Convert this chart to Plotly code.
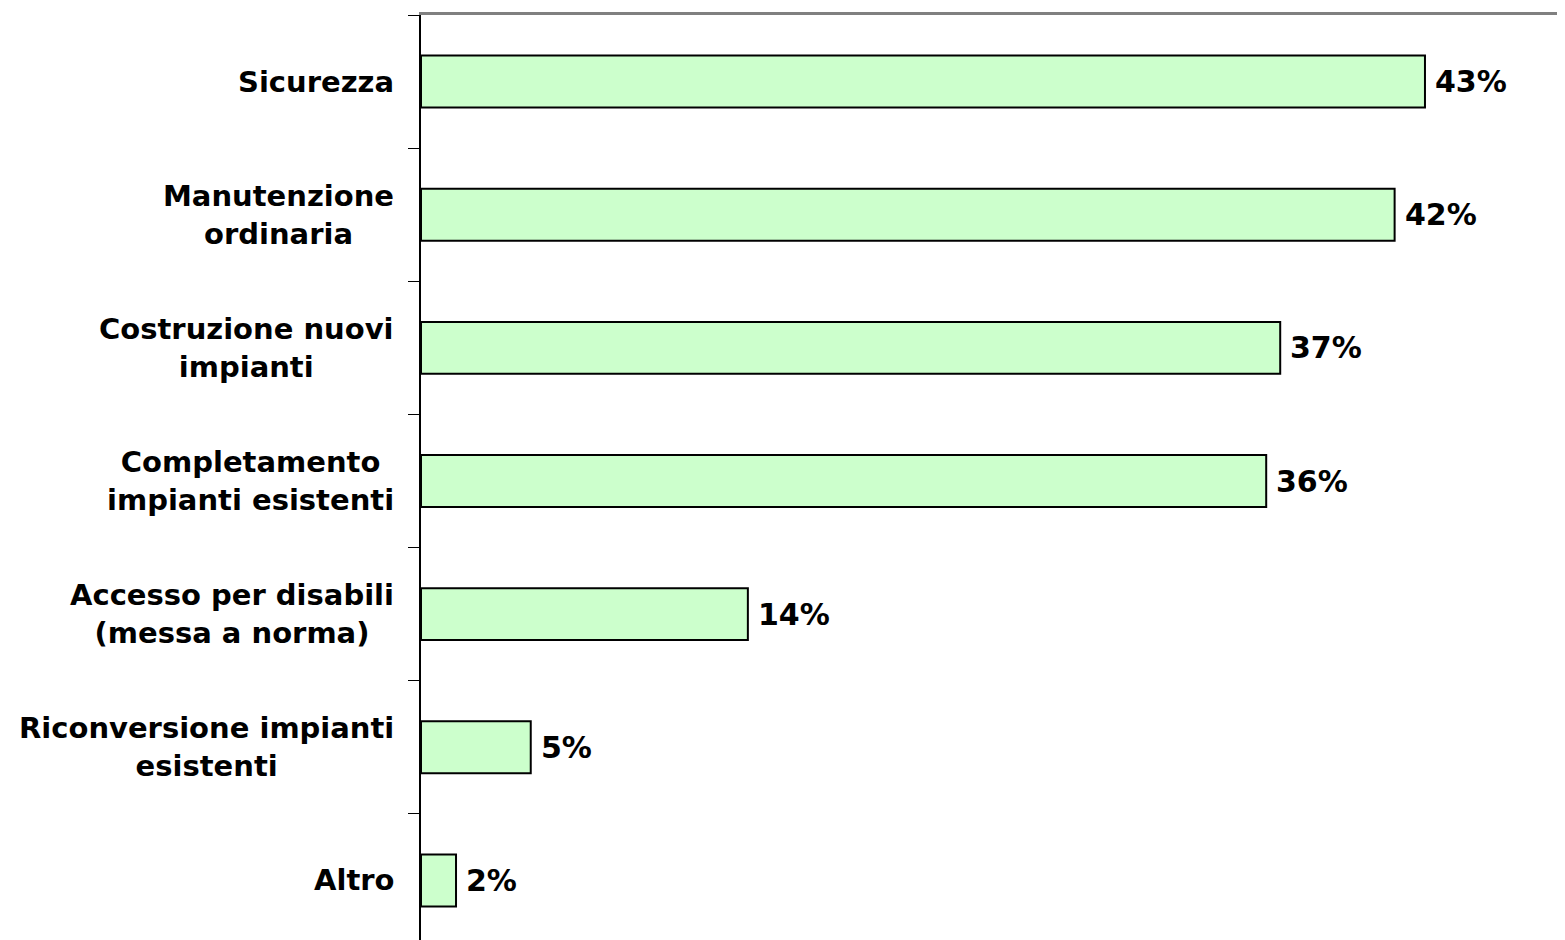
import plotly.graph_objects as go

categories = [
    "Sicurezza",
    "Manutenzione<br>ordinaria",
    "Costruzione nuovi<br>impianti",
    "Completamento<br>impianti esistenti",
    "Accesso per disabili<br>(messa a norma)",
    "Riconversione impianti<br>esistenti",
    "Altro",
]
values = [43.0, 41.7, 36.8, 36.2, 14.0, 4.7, 1.5]
value_labels = ["43%", "42%", "37%", "36%", "14%", "5%", "2%"]

FONT = "Verdana, DejaVu Sans, sans-serif"

fig = go.Figure()
fig.add_trace(go.Bar(
    x=values,
    y=categories,
    orientation="h",
    marker=dict(color="#CCFFCC", line=dict(color="#000000", width=2)),
    hoverinfo="skip",
))

annotations = []
for cat, v, lab in zip(categories, values, value_labels):
    annotations.append(dict(
        x=v, y=cat, xref="x", yref="y", text=lab, showarrow=False,
        xanchor="left", yanchor="middle", xshift=8,
        font=dict(family=FONT, size=30, color="#000000", weight="bold"),
    ))
    annotations.append(dict(
        x=0, y=cat, xref="x", yref="y", text=cat, showarrow=False,
        xanchor="right", yanchor="middle", xshift=-25, align="center",
        font=dict(family=FONT, size=29, color="#000000", weight="bold"),
    ))

fig.update_layout(
    width=1565,
    height=933,
    margin=dict(l=413, r=0, t=7, b=0, pad=0),
    paper_bgcolor="#FFFFFF",
    plot_bgcolor="#FFFFFF",
    bargap=0.61,
    showlegend=False,
    annotations=annotations,
    xaxis=dict(
        range=[0, 49.34],
        side="top",
        showline=True, linecolor="#808080", linewidth=3,
        showgrid=False, zeroline=False,
        showticklabels=False, ticks="",
        fixedrange=True,
    ),
    yaxis=dict(
        type="category",
        range=[6.455, -0.5],
        showline=True, linecolor="#000000", linewidth=2,
        ticks="outside", ticklen=11, tickwidth=1, tickcolor="#000000",
        tickson="boundaries",
        showticklabels=False,
        showgrid=False, zeroline=False,
        fixedrange=True,
    ),
)

fig.write_html("out.html")
